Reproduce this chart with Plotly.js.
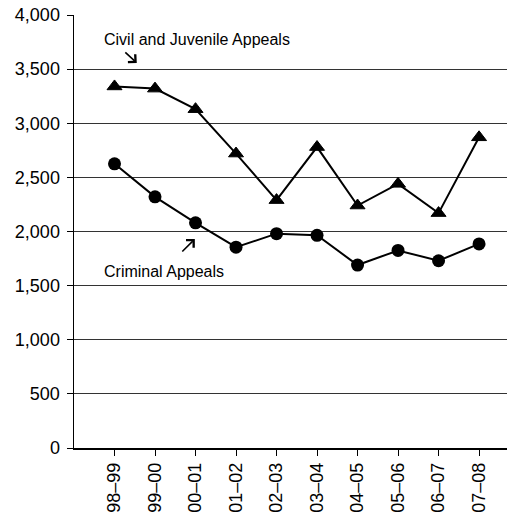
<!DOCTYPE html>
<html>
<head>
<meta charset="utf-8">
<script src="https://cdn.plot.ly/plotly-3.0.1.min.js"></script>
<style>html,body{margin:0;padding:0;background:#fff;}#chart{width:507px;height:517px;}</style>
</head>
<body>
<div id="chart"></div>
<script>
const categories = ['98–99','99–00','00–01','01–02','02–03','03–04','04–05','05–06','06–07','07–08'];
const civilJuvenile = [3340, 3320, 3130, 2720, 2290, 2780, 2240, 2440, 2170, 2870];
const criminal = [2625, 2320, 2080, 1855, 1980, 1965, 1690, 1825, 1730, 1885];
const yTicks = [0, 500, 1000, 1500, 2000, 2500, 3000, 3500, 4000];

const font = 'Liberation Sans, Arial, sans-serif';

const traces = [
  {
    x: categories, y: civilJuvenile, type: 'scatter', mode: 'lines+markers',
    name: 'Civil and Juvenile Appeals',
    line: {color: '#000', width: 2},
    marker: {symbol: 'triangle-up', size: 13, color: '#000', line: {color: '#000', width: 1}}
  },
  {
    x: categories, y: criminal, type: 'scatter', mode: 'lines+markers',
    name: 'Criminal Appeals',
    line: {color: '#000', width: 2},
    marker: {symbol: 'circle', size: 13, color: '#000'}
  }
];

const arrowStyle = {xref: 'x', yref: 'y', axref: 'x', ayref: 'y', text: '', showarrow: true,
  arrowhead: 4, arrowsize: 1.3, arrowwidth: 1.6, arrowcolor: '#000', standoff: 0, startstandoff: 0};

const layout = {
  width: 507, height: 517,
  margin: {l: 74, r: 0, t: 15, b: 69, pad: 0},
  paper_bgcolor: '#fff', plot_bgcolor: '#fff',
  showlegend: false,
  font: {family: font, size: 18, color: '#000'},
  xaxis: {
    type: 'category',
    range: [-1, 9.69],
    showgrid: false,
    showline: true, linecolor: '#000', linewidth: 1.5,
    ticks: 'outside', ticklen: 6, tickcolor: '#000', tickwidth: 1,
    tickangle: -90,
    tickfont: {family: font, size: 18, color: '#000'},
    zeroline: false
  },
  yaxis: {
    range: [0, 4000],
    tickvals: yTicks,
    tickformat: ',d',
    showgrid: true, gridcolor: '#333', gridwidth: 1,
    showline: true, linecolor: '#000', linewidth: 1.5,
    ticks: 'outside', ticklen: 6, tickcolor: '#000', tickwidth: 1,
    ticklabelstandoff: 3,
    tickfont: {family: font, size: 18, color: '#000'},
    zeroline: false
  },
  annotations: [
    {x: -0.31, y: 3778, xref: 'x', yref: 'y', text: 'Civil and Juvenile Appeals', showarrow: false,
     xanchor: 'left', yanchor: 'middle', font: {family: font, size: 16, color: '#000'}},
    Object.assign({x: 0.55, y: 3557, ax: 0.23, ay: 3667}, arrowStyle),
    {x: -0.31, y: 1626, xref: 'x', yref: 'y', text: 'Criminal Appeals', showarrow: false,
     xanchor: 'left', yanchor: 'middle', font: {family: font, size: 16, color: '#000'}},
    Object.assign({x: 1.983, y: 1931, ax: 1.637, ay: 1801}, arrowStyle)
  ]
};

Plotly.newPlot('chart', traces, layout, {staticPlot: true, displayModeBar: false});
</script>
</body>
</html>
